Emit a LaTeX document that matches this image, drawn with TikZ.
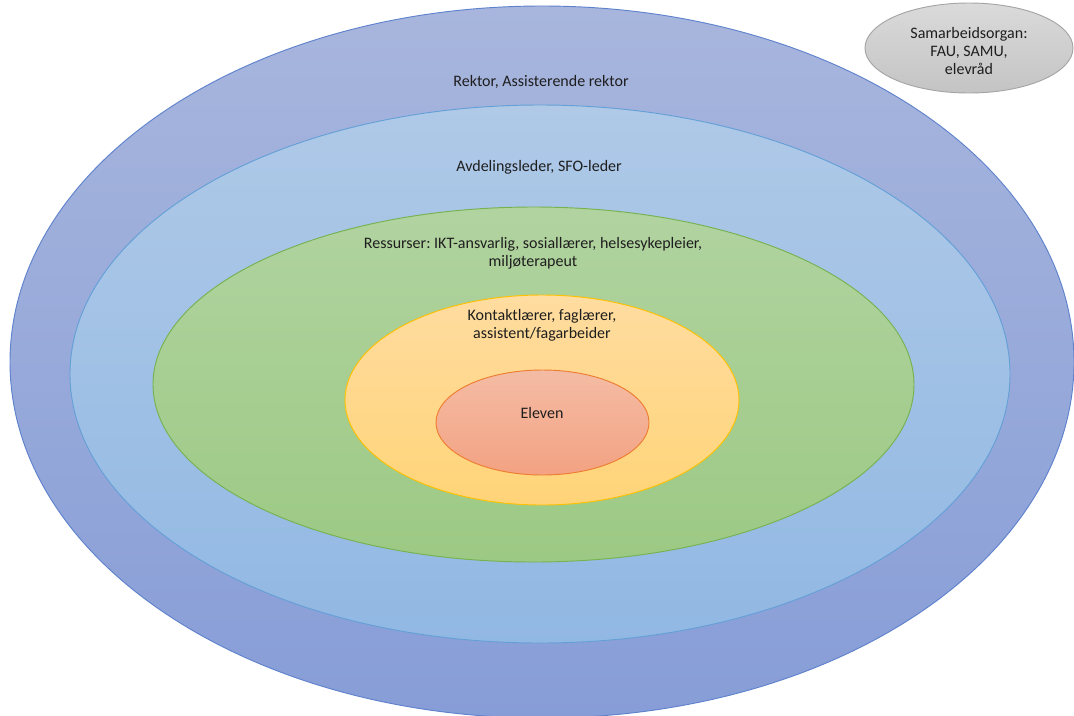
\documentclass[tikz,border=0pt]{standalone}
\usepackage{fontspec}
\setmainfont{Carlito}
\usetikzlibrary{shapes.geometric}
\definecolor{txt}{HTML}{1E1E1E}
\tikzset{
  ring/.style={ellipse, inner sep=0pt, line width=0.7pt},
  lbl/.style={font=\fontsize{12}{13.5}\selectfont\frenchspacing, text=txt, align=center, inner sep=0pt}
}
\begin{document}
\begin{tikzpicture}[x=0.75pt,y=-0.75pt]
\useasboundingbox (0,0) rectangle (1074,715);
\node[ring, draw={rgb,255:red,95;green,130;blue,205}, top color={rgb,255:red,168;green,182;blue,221}, bottom color={rgb,255:red,135;green,157;blue,215}, minimum width=798pt, minimum height=534pt] (outer) at (542,362) {};
\node[ring, draw={rgb,255:red,100;green,160;blue,215}, top color={rgb,255:red,175;green,201;blue,231}, bottom color={rgb,255:red,145;green,184;blue,227}, minimum width=705pt, minimum height=403.5pt] (dept) at (540,374) {};
\node[ring, draw={rgb,255:red,118;green,178;blue,80}, top color={rgb,255:red,177;green,211;blue,160}, bottom color={rgb,255:red,156;green,201;blue,132}, minimum width=570.75pt, minimum height=266.25pt] (res) at (533.5,384.5) {};
\node[ring, draw={rgb,255:red,255;green,192;blue,0}, top color={rgb,255:red,255;green,220;blue,160}, bottom color={rgb,255:red,255;green,212;blue,120}, minimum width=295.5pt, minimum height=157.5pt] (teach) at (542,400) {};
\node[ring, draw={rgb,255:red,237;green,125;blue,49}, top color={rgb,255:red,244;green,188;blue,165}, bottom color={rgb,255:red,243;green,162;blue,130}, minimum width=159.75pt, minimum height=78.75pt] (pupil) at (542.5,422.5) {};
\node[ring, draw={rgb,255:red,165;green,165;blue,165}, top color={rgb,255:red,218;green,218;blue,218}, bottom color={rgb,255:red,196;green,196;blue,196}, minimum width=156pt, minimum height=67.5pt] (coop) at (969,48) {};

\node[lbl] (t1) at (541,82) {Rektor, Assisterende rektor};
\node[lbl] (t2) at (539,167) {Avdelingsleder, SFO-leder};
\node[lbl] (t3) at (533,253) {Ressurser: IKT-ansvarlig, sosiallærer, helsesykepleier,\\miljøterapeut};
\node[lbl] (t4) at (542,325) {Kontaktlærer, faglærer,\\assistent/fagarbeider};
\node[lbl] (t5) at (542,413) {Eleven};
\node[lbl] (t6) at (969,51) {Samarbeidsorgan:\\FAU, SAMU,\\elevråd};
\end{tikzpicture}
\end{document}
